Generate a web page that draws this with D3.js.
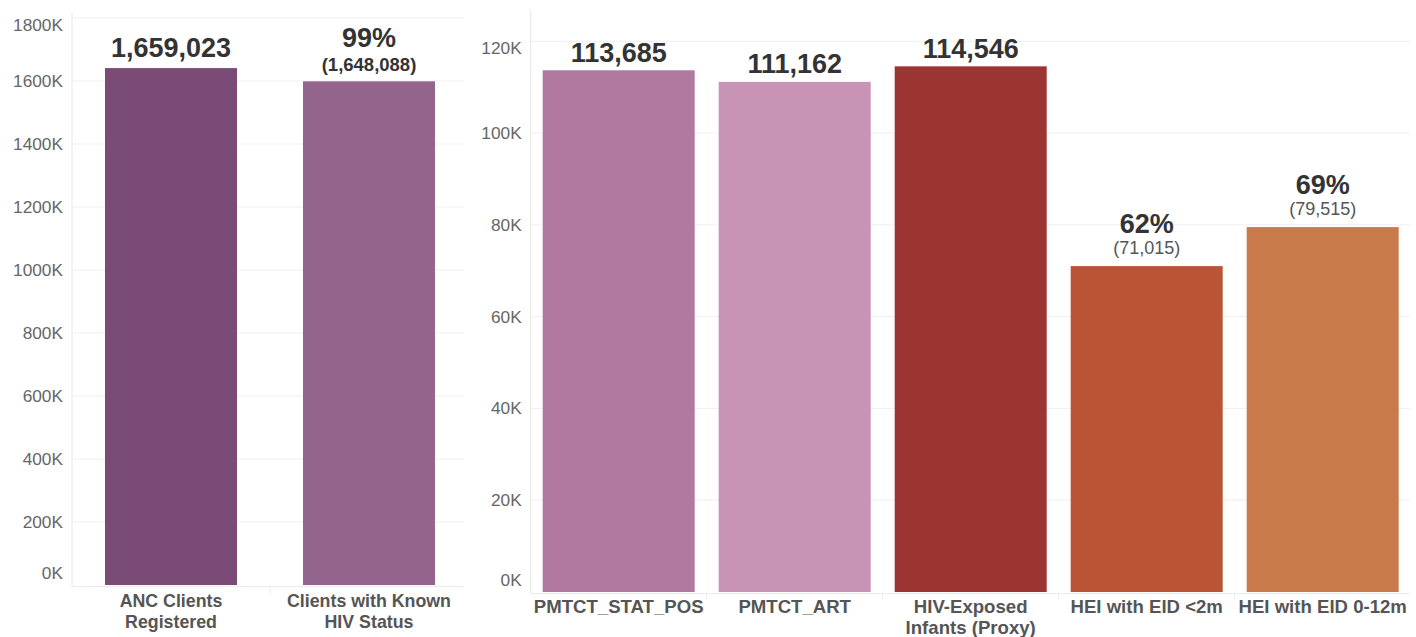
<!DOCTYPE html>
<html>
<head>
<meta charset="utf-8">
<script src="https://cdn.jsdelivr.net/npm/d3@7"></script>
<style>
  html, body { margin: 0; padding: 0; background: #fff; }
  svg { display: block; font-family: "Liberation Sans", Arial, sans-serif; }
</style>
</head>
<body>
<svg id="chart" width="1416" height="637"></svg>
<script>
// ---- Data ----
const leftCategories = [["ANC Clients", "Registered"], ["Clients with Known", "HIV Status"]];
const leftValues = [1641000, 1599000];            // bar heights as drawn
const leftMainLabels = ["1,659,023", "99%"];
const leftSubLabels = ["", "(1,648,088)"];
const leftColors = ["#7b4b77", "#92648e"];
const leftTicks = [0, 200000, 400000, 600000, 800000, 1000000, 1200000, 1400000, 1600000, 1800000];

const rightCategories = [["PMTCT_STAT_POS"], ["PMTCT_ART"], ["HIV-Exposed", "Infants (Proxy)"], ["HEI with EID <2m"], ["HEI with EID 0-12m"]];
const rightValues = [113685, 111162, 114546, 71015, 79515];
const rightMainLabels = ["113,685", "111,162", "114,546", "62%", "69%"];
const rightSubLabels = ["", "", "", "(71,015)", "(79,515)"];
const rightColors = ["#b1799f", "#c993b6", "#9c3431", "#b95535", "#c97a4b"];
const rightTicks = [0, 20000, 40000, 60000, 80000, 100000, 120000];

const svg = d3.select("#chart");
const kFmt = d => (d / 1000) + "K";

function panel(cfg) {
  const g = svg.append("g");
  const x = d3.scaleBand().domain(cfg.cats.map((c, i) => i))
    .range([cfg.x0, cfg.x1]).paddingInner(cfg.pin).paddingOuter(cfg.pout);
  const y = d3.scaleLinear().domain([0, cfg.ymax]).range([cfg.y0, cfg.y1]);

  // gridlines
  g.append("g").selectAll("line").data(cfg.ticks.slice(1)).join("line")
    .attr("x1", cfg.x0).attr("x2", cfg.gridEnd)
    .attr("y1", d => y(d)).attr("y2", d => y(d))
    .attr("stroke", "#efefef").attr("stroke-width", 1);

  // y axis
  const ya = d3.axisLeft(y).tickValues(cfg.ticks).tickFormat(kFmt).tickSize(0).tickPadding(9);
  const yg = g.append("g").attr("transform", `translate(${cfg.x0},0)`).call(ya);
  yg.select(".domain").remove();
  yg.selectAll("text").attr("fill", "#666").style("font-size", "17.3px")
    .attr("dy", (d, i) => d === 0 ? "-0.35em" : (d === cfg.ymax ? "0.7em" : "0.32em"));
  g.append("line").attr("x1", cfg.x0).attr("x2", cfg.x0).attr("y1", cfg.axisTop).attr("y2", cfg.y0 + 1)
    .attr("stroke", "#e6e6e6");
  // x axis line
  g.append("line").attr("x1", cfg.x0).attr("x2", cfg.gridEnd).attr("y1", cfg.y0 + 1.5).attr("y2", cfg.y0 + 1.5)
    .attr("stroke", "#ececec");
  // category dividers
  g.append("g").selectAll("line").data(cfg.cats.slice(1)).join("line")
    .attr("x1", (d, i) => x(i + 1) - x.step() * x.paddingInner() / 2)
    .attr("x2", (d, i) => x(i + 1) - x.step() * x.paddingInner() / 2)
    .attr("y1", cfg.y0 + 1.5).attr("y2", cfg.y0 + 8)
    .attr("stroke", "#ececec");

  // bars
  g.append("g").selectAll("rect").data(cfg.values).join("rect")
    .attr("x", (d, i) => x(i)).attr("width", x.bandwidth())
    .attr("y", d => y(d)).attr("height", d => y(0) - y(d))
    .attr("fill", (d, i) => cfg.colors[i]);

  // value labels
  cfg.values.forEach((v, i) => {
    const cx = x(i) + x.bandwidth() / 2;
    const top = y(v);
    if (cfg.subs[i]) {
      const sb = top - cfg.subGap;
      g.append("text").attr("x", cx).attr("y", sb).attr("text-anchor", "middle")
        .attr("fill", cfg.subColor).style("font-size", cfg.subSize).style("font-weight", cfg.subWeight)
        .text(cfg.subs[i]);
      g.append("text").attr("x", cx).attr("y", sb - cfg.mainSubGap).attr("text-anchor", "middle")
        .attr("fill", "#333").style("font-size", "27px").style("font-weight", "bold")
        .text(cfg.mains[i]);
    } else {
      g.append("text").attr("x", cx).attr("y", top - cfg.mainGap).attr("text-anchor", "middle")
        .attr("fill", "#333").style("font-size", "27px").style("font-weight", "bold")
        .text(cfg.mains[i]);
    }
  });

  // category labels
  cfg.cats.forEach((lines, i) => {
    const cx = x(i) + x.bandwidth() / 2;
    const t = g.append("text").attr("text-anchor", "middle").attr("fill", "#555")
      .style("font-size", cfg.labelSize).style("font-weight", "bold");
    lines.forEach((ln, j) => {
      t.append("tspan").attr("x", cx).attr("y", cfg.labelY + j * 20.5).text(ln);
    });
  });
}

panel({
  cats: leftCategories, values: leftValues, mains: leftMainLabels, subs: leftSubLabels,
  colors: leftColors, ticks: leftTicks, ymax: 1800000,
  x0: 72, x1: 468, gridEnd: 464, pin: 1 / 3, pout: 1 / 6,
  y0: 585, y1: 18, axisTop: 13,
  mainGap: 11, subGap: 10, mainSubGap: 24, subColor: "#333", subWeight: "bold", subSize: "18.5px",
  labelY: 607, labelSize: "17.8px"
});

panel({
  cats: rightCategories, values: rightValues, mains: rightMainLabels, subs: rightSubLabels,
  colors: rightColors, ticks: rightTicks, ymax: 120000,
  x0: 530.7, x1: 1410.7, gridEnd: 1410, pin: 24 / 176, pout: 12 / 176,
  y0: 592, y1: 41.3, axisTop: 10,
  mainGap: 8.5, subGap: 12, mainSubGap: 21, subColor: "#555", subWeight: "normal", subSize: "18px",
  labelY: 613, labelSize: "18.6px"
});
</script>
</body>
</html>
